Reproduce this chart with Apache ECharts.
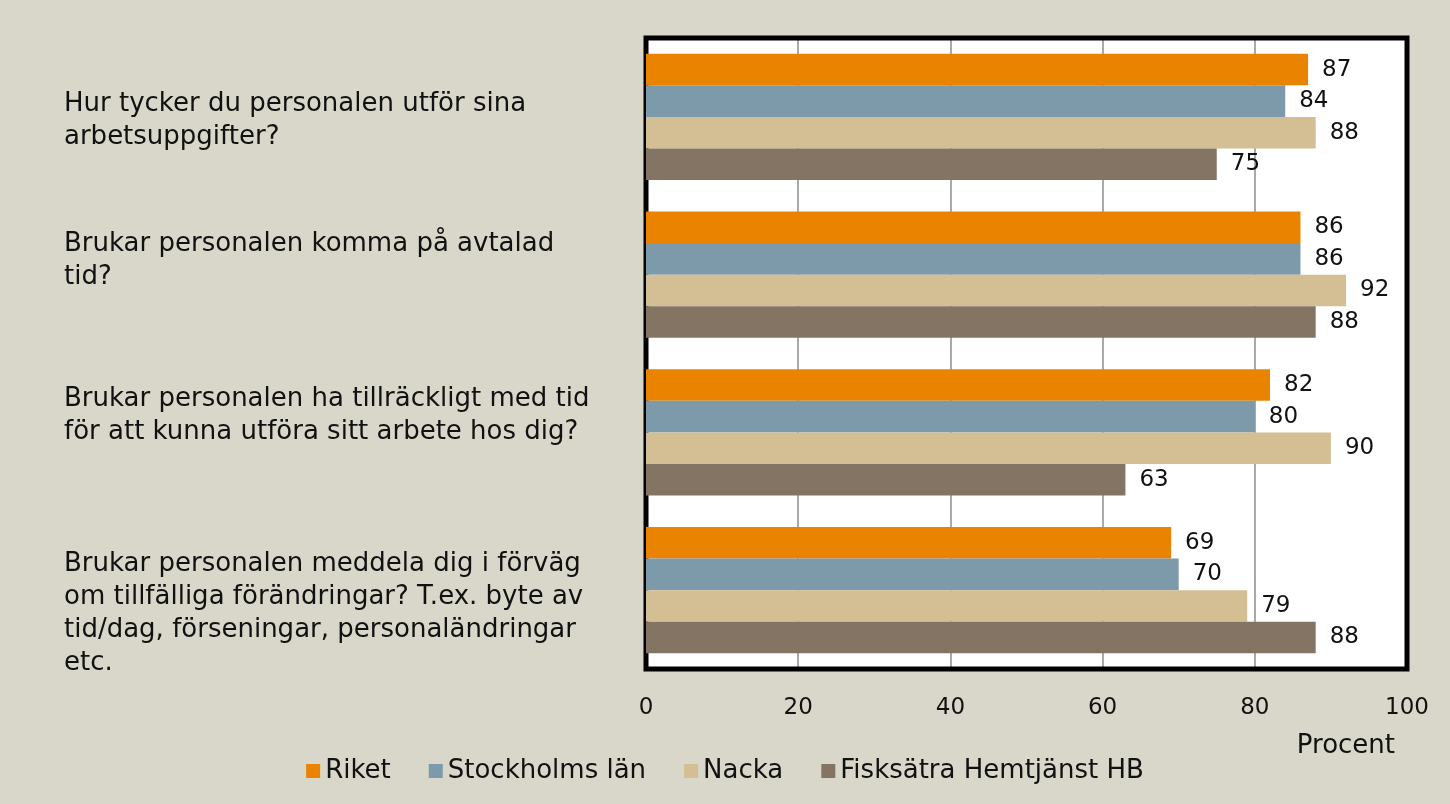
<!DOCTYPE html>
<html>
<head>
<meta charset="utf-8">
<script src="https://cdn.jsdelivr.net/npm/echarts@6/dist/echarts.min.js"></script>
<style>
html,body{margin:0;padding:0;background:#D9D7CA;}
#c{width:1450px;height:804px;}
</style>
</head>
<body>
<div id="c"></div>
<script>
var categories = [
  "Hur tycker du personalen utför sina\narbetsuppgifter?",
  "Brukar personalen komma på avtalad\ntid?",
  "Brukar personalen ha tillräckligt med tid\nför att kunna utföra sitt arbete hos dig?",
  "Brukar personalen meddela dig i förväg\nom tillfälliga förändringar? T.ex. byte av\ntid/dag, förseningar, personaländringar\netc."
];
var seriesNames = ["Riket", "Stockholms län", "Nacka", "Fisksätra Hemtjänst HB"];
var riket = [87, 86, 82, 69];
var stockholm = [84, 86, 80, 70];
var nacka = [88, 92, 90, 79];
var fisksatra = [75, 88, 63, 88];
var xTicks = [0, 20, 40, 60, 80, 100];
var axisName = "Procent";
var colors = ["#EA8400", "#7D9AAB", "#D4BF94", "#847464"];

var FONT = "DejaVu Sans";
var values = [riket, stockholm, nacka, fisksatra];
// vertical nudges of the category labels (layout only): spacer above (+) or below (-)
var labelNudge = [8, -28, -34, 48];

var GRID = {left: 646, top: 38, width: 761, height: 631};

var rich = {};
labelNudge.forEach(function (n, i) {
  rich['sp' + i] = {height: Math.abs(n), lineHeight: Math.abs(n), fontSize: 1};
});

var chart = echarts.init(document.getElementById('c'));
chart.setOption({
  backgroundColor: '#D9D7CA',
  animation: false,
  textStyle: {fontFamily: FONT},
  grid: {
    left: GRID.left, top: GRID.top, width: GRID.width, height: GRID.height,
    show: true, backgroundColor: '#FFFFFF', borderWidth: 0,
    containLabel: false, outerBoundsMode: 'none'
  },
  legend: {
    top: 753, left: 'center',
    itemWidth: 14, itemHeight: 14, itemGap: 38,
    icon: 'rect',
    textStyle: {fontFamily: FONT, fontSize: 26, color: '#111'},
    data: seriesNames
  },
  graphic: [{
    type: 'rect', z: 1,
    shape: {x: GRID.left, y: GRID.top, width: GRID.width, height: GRID.height},
    style: {fill: null, stroke: '#000', lineWidth: 5}
  }, {
    type: 'text', right: 55, top: 733, z: 5,
    style: {text: axisName, font: '26px "' + FONT + '"', fill: '#111'}
  }],
  xAxis: {
    type: 'value', min: xTicks[0], max: xTicks[xTicks.length - 1], interval: 20,
    axisLine: {show: false}, axisTick: {show: false},
    axisLabel: {fontSize: 23, color: '#111', margin: 28, fontFamily: FONT},
    splitLine: {show: true, lineStyle: {color: '#8C8C8C', width: 1.5}}
  },
  yAxis: {
    type: 'category', inverse: true, data: categories,
    axisLine: {show: false}, axisTick: {show: false},
    axisLabel: {
      fontSize: 26, color: '#111', align: 'left', margin: 582,
      lineHeight: 33, fontFamily: FONT, rich: rich,
      formatter: function (value, index) {
        var n = labelNudge[index];
        var sp = '{sp' + index + '| }';
        return n > 0 ? sp + '\n' + value : value + '\n' + sp;
      }
    }
  },
  series: seriesNames.map(function (name, i) {
    return {
      name: name, type: 'bar', data: values[i], z: 3,
      barGap: '0%', barCategoryGap: '20%',
      itemStyle: {color: colors[i]},
      label: {show: true, position: 'right', distance: 14, fontSize: 23, color: '#111', fontFamily: FONT}
    };
  })
});
</script>
</body>
</html>
